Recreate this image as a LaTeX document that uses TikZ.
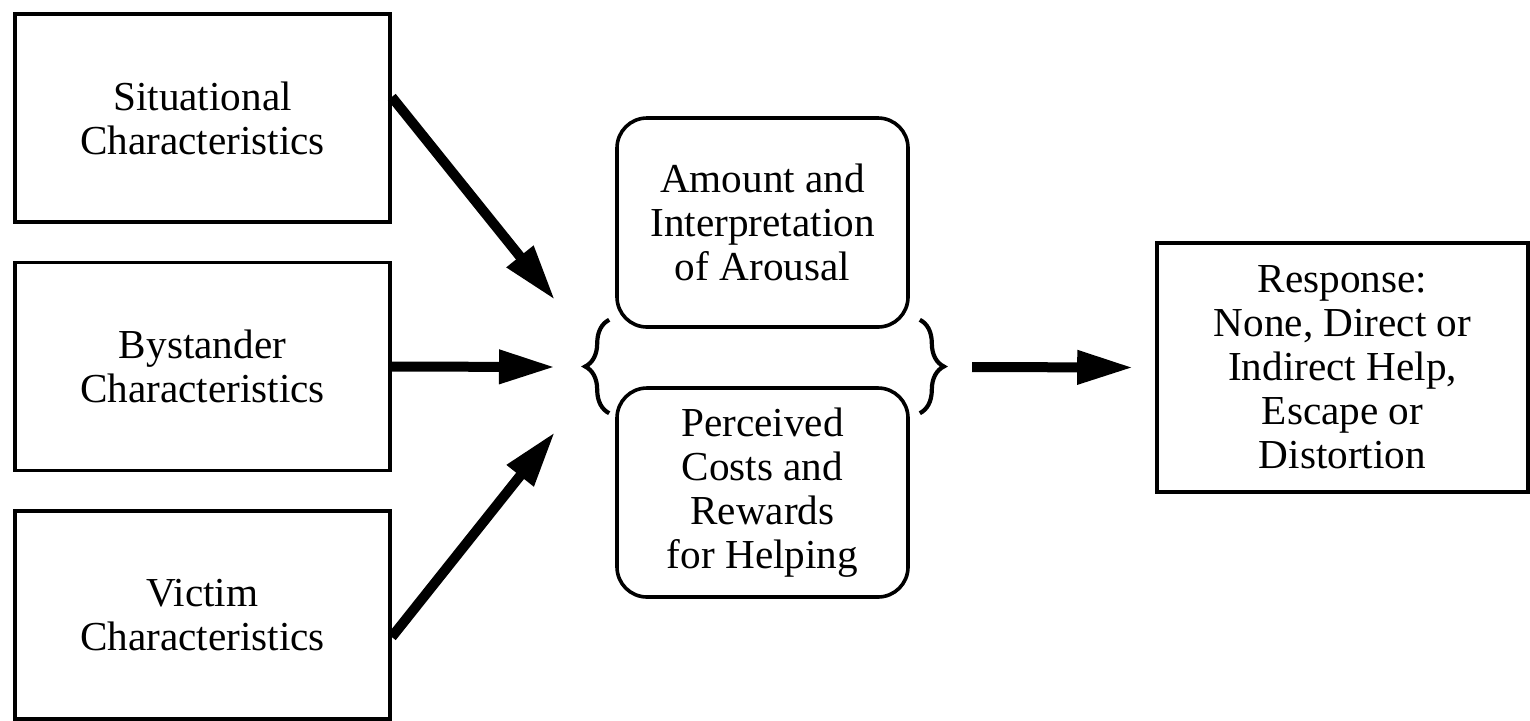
\documentclass[tikz,border=0pt]{standalone}
\usepackage{fontspec}
\setmainfont{Liberation Serif}
\usetikzlibrary{positioning,calc,arrows.meta,decorations.pathreplacing}

\begin{document}
\begin{tikzpicture}[
    x=0.5pt, y=-0.5pt,
    every node/.style  = {font=\fontsize{20.6}{22}\selectfont, align=center, inner sep=0pt},
    box/.style         = {draw=black, line width=1.8pt, fill=white},
    factor/.style      = {box, minimum width=187.5pt, minimum height=104pt},
    mediator/.style    = {box, rounded corners=15pt,
                          minimum width=145.5pt, minimum height=104.5pt},
    outcome/.style     = {box, minimum width=185.5pt, minimum height=124.5pt},
    arrow/.style       = {-{Triangle[length=28pt, width=16pt]}, line width=5pt},
    brace/.style       = {decorate, decoration={brace, amplitude=12pt},
                          line width=2.1pt},
  ]
  \useasboundingbox (0,0) rectangle (1530,720);

  %% Left column: three sets of characteristics
  \node[factor] (sit) at (202.5,118)   {Situational\\Characteristics};
  \node[factor] (bys) at (202.5,366.5) {Bystander\\Characteristics};
  \node[factor] (vic) at (202.5,615)   {Victim\\Characteristics};

  %% Middle column: the two weighed processes
  \node[mediator] (amt)  at (762.5,222.5) {Amount and\\Interpretation\\of Arousal};
  \node[mediator] (perc) at (762.5,492.5) {Perceived\\Costs and\\Rewards\\for Helping};

  %% Right: outcome
  \node[outcome] (resp) at (1342.5,367.5)
    {Response:\\None, Direct or\\Indirect Help,\\Escape or\\Distortion};

  %% Arrow ends in front of the left brace
  \coordinate (inA) at (555,300);
  \coordinate (inB) at (555,367);
  \coordinate (inC) at (555,432);

  \draw[arrow] ($(sit.east)+(0,-21)$) -- (inA);
  \draw[arrow] (bys.east)             -- (inB);
  \draw[arrow] ($(vic.east)+(0,22)$)  -- (inC);

  %% Braces grouping the two middle boxes
  \draw[brace] ($(perc.north west)+(-6,27)$) -- ($(amt.south west)+(-6,-9)$);
  \draw[brace] ($(amt.south east)+(10,-9)$)  -- ($(perc.north east)+(10,27)$);

  %% Middle -> response
  \coordinate (outA) at (972,367);
  \draw[arrow] (outA) -- ([xshift=-11pt]resp.west);

\end{tikzpicture}
\end{document}
